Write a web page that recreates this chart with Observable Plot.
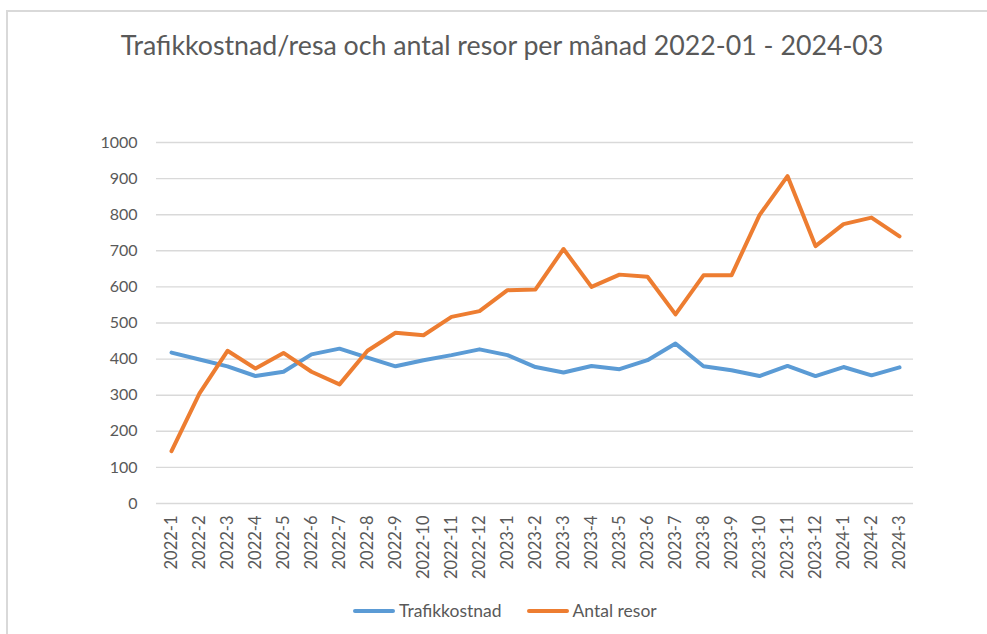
<!DOCTYPE html>
<html>
<head>
<meta charset="utf-8">
<script src="https://cdn.jsdelivr.net/npm/d3@7"></script>
<script src="https://cdn.jsdelivr.net/npm/@observablehq/plot@0.6"></script>
<style>
  html, body { margin: 0; padding: 0; background: #fff; overflow: hidden; }
  #wrap { position: relative; width: 987px; height: 634px; overflow: hidden; font-family: Lato, "Open Sans", sans-serif; }
  #border { position: absolute; left: 6px; top: 10px; width: 1100px; height: 800px; border: 2px solid #d9d9d9; box-sizing: border-box; }
  #title { position: absolute; left: 0; width: 1004px; top: 32px; text-align: center; color: #595959; line-height: 1; white-space: nowrap; }
  #title span { display: inline-block; }
  #chart { position: absolute; left: 0; top: 0; }
  #legend { position: absolute; left: 353px; top: 601px; display: flex; align-items: center; color: #595959; font-size: 17.5px; line-height: 20px; }
  .sw { display: inline-block; width: 42px; height: 4px; border-radius: 2px; margin-right: 4px; }
</style>
</head>
<body>
<div id="wrap">
  <div id="border"></div>
  <div id="title"><span>Trafikkostnad/resa och antal resor per månad 2022-01 - 2024-03</span></div>
  <div id="chart"></div>
  <div id="legend"></div>
</div>
<script>
const months = ["2022-1","2022-2","2022-3","2022-4","2022-5","2022-6","2022-7","2022-8","2022-9","2022-10","2022-11","2022-12",
  "2023-1","2023-2","2023-3","2023-4","2023-5","2023-6","2023-7","2023-8","2023-9","2023-10","2023-11","2023-12",
  "2024-1","2024-2","2024-3"];
const trafikkostnad = [418, 399, 380, 353, 365, 413, 429, 404, 380, 397, 411, 427, 411, 378, 363, 381, 372, 397, 443, 380, 369, 353, 381, 353, 378, 355, 377];
const antalResor = [145, 305, 423, 374, 417, 365, 330, 423, 473, 466, 517, 533, 591, 593, 705, 600, 634, 628, 524, 632, 632, 799, 907, 713, 774, 792, 740];
const seriesNames = ["Trafikkostnad", "Antal resor"];
const seriesColors = ["#5b9bd5", "#ed7d31"];
const yTicks = [0, 100, 200, 300, 400, 500, 600, 700, 800, 900, 1000];

const rows = [];
months.forEach((m, i) => {
  rows.push({month: m, value: trafikkostnad[i], series: seriesNames[0]});
  rows.push({month: m, value: antalResor[i], series: seriesNames[1]});
});

const chart = Plot.plot({
  width: 987,
  height: 600,
  marginTop: 142,
  marginBottom: 97,
  marginLeft: 156,
  marginRight: 74,
  style: {fontFamily: "Lato, 'Open Sans', sans-serif", color: "#595959", background: "transparent"},
  x: {type: "point", domain: months, padding: 0.5},
  y: {domain: [0, 1000]},
  color: {domain: seriesNames, range: seriesColors},
  marks: [
    Plot.ruleY(yTicks, {stroke: "#d9d9d9", strokeWidth: 1.4, strokeOpacity: 1}),
    Plot.axisY({ticks: yTicks, tickFormat: d => String(d), tickSize: 0, tickPadding: 19, fontSize: 16, label: null, fill: "#595959"}),
    Plot.axisX({tickSize: 0, tickRotate: -90, tickPadding: 12, fontSize: 16.5, label: null, fill: "#595959"}),
    Plot.lineY(rows, {x: "month", y: "value", z: "series", stroke: "series", strokeWidth: 4, strokeLinejoin: "round", strokeLinecap: "round"})
  ]
});
document.getElementById("chart").appendChild(chart);

// fit title to reference width
const tspan = document.querySelector("#title span");
let fs = 24;
tspan.style.fontSize = fs + "px";
const w = tspan.getBoundingClientRect().width;
fs = fs * 763 / w;
tspan.style.fontSize = fs + "px";

const legend = document.getElementById("legend");
seriesNames.forEach((name, i) => {
  const item = document.createElement("span");
  item.style.display = "flex";
  item.style.alignItems = "center";
  item.style.marginRight = i === 0 ? "25px" : "0";
  const sw = document.createElement("span");
  sw.className = "sw";
  sw.style.background = seriesColors[i];
  const label = document.createElement("span");
  label.textContent = name;
  item.appendChild(sw);
  item.appendChild(label);
  legend.appendChild(item);
});
</script>
</body>
</html>
